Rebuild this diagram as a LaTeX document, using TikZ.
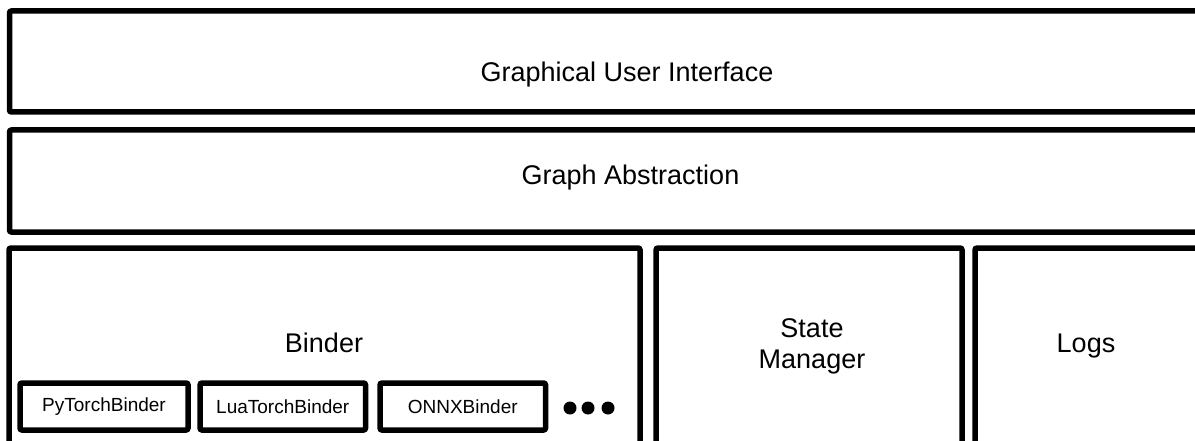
\documentclass[tikz,border=0pt]{standalone}
\usepackage{fontspec}
\setmainfont{Liberation Sans}
\tikzset{
    layer/.style={draw, line width=5.5pt, rounded corners=2pt},
    layertext/.style={font=\fontsize{27}{31}\selectfont, align=center, inner sep=0pt},
    binderbox/.style={draw, line width=5.5pt, rounded corners=2pt, font=\fontsize{19}{22}\selectfont,
        minimum height=47pt, inner sep=0pt}
}
\begin{document}
\begin{tikzpicture}[x=1pt,y=-1pt]
    \useasboundingbox (0,0) rectangle (1195,441);

    % Capas superiores
    \draw[layer] (9.5,11) rectangle (1260,112);
    \node[layertext, anchor=base] (gui) at (627,82) {Graphical User Interface};
    \draw[layer] (9.5,130) rectangle (1260,232);
    \node[layertext, anchor=base] (graph) at (630.5,185) {Graph Abstraction};

    % Fila inferior
    \draw[layer] (9,248) rectangle (640,480);
    \node[layertext, anchor=base] (binder) at (324,352) {Binder};
    \draw[layer] (656,248) rectangle (962,480);
    \node[layertext, anchor=base] (state) at (812,368) {State\\Manager};
    \draw[layer] (975,248) rectangle (1260,480);
    \node[layertext, anchor=base] (logs) at (1086,352) {Logs};

    % Binders concretos
    \node[binderbox, minimum width=168pt] (pytorch) at (104,406.5) {PyTorchBinder};
    \node[binderbox, minimum width=165.5pt] (luatorch) at (282.75,406.5) {LuaTorchBinder};
    \node[binderbox, minimum width=165.5pt] (onnx) at (462.75,406.5) {ONNXBinder};
    \foreach \x in {570,588,608} {
        \fill (\x,408) circle (6.5pt);
    }
\end{tikzpicture}
\end{document}
